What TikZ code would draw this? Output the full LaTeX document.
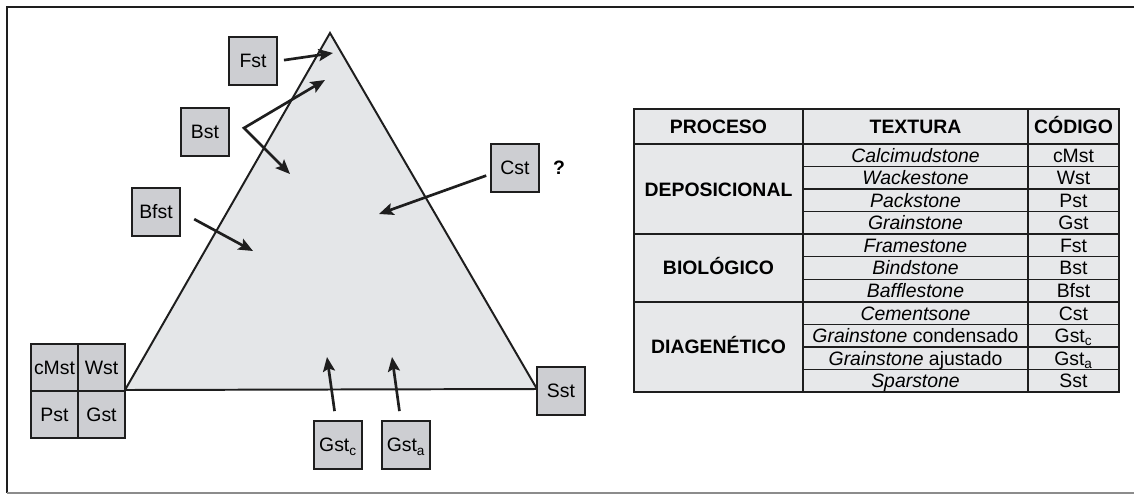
\documentclass[tikz,border=0pt]{standalone}
\usepackage{fontspec}
\setmainfont{Liberation Sans}
\usetikzlibrary{arrows.meta}
\definecolor{boxgray}{HTML}{CDCED2}
\definecolor{fieldgray}{HTML}{E4E6E8}
\definecolor{tablegray}{HTML}{E7E8EA}
\definecolor{inkdark}{HTML}{1E1E1E}
\definecolor{framegray}{HTML}{8C8C8C}
\newcommand\lblsize{\fontsize{13.8}{16}\selectfont}

\tikzset{
  hd/.tip={Stealth[length=0.36cm,width=0.3cm,inset=0.07cm]},
  texbox/.style={draw=inkdark, line width=1.4pt, fill=boxgray, minimum size=1.2cm,
    inner sep=0pt, text height=12.4pt, text depth=2.5pt},
  gridcell/.style={texbox, minimum size=1.175cm},
  pointer/.style={draw=inkdark, line width=1.9pt, -hd},
  cell/.style={inner sep=0pt, text height=12.4pt, text depth=2.5pt},
  headcell/.style={cell, font=\lblsize\bfseries}
}

\begin{document}
\begin{tikzpicture}[x=0.025cm, y=-0.025cm, every node/.style={font=\lblsize}]
  \useasboundingbox (0,0) rectangle (1135,494);

  % frame
  \draw[inkdark, line width=1.4pt] (1134,7) -- (7,7) -- (7,493);
  \draw[framegray, line width=0.8pt] (7,493) -- (1134,493);

  % ternary field
  \coordinate (left) at (125,390);
  \coordinate (apex) at (330,33);
  \coordinate (right) at (537,389);
  \draw[fill=fieldgray, draw=inkdark, line width=1.4pt] (left) -- (apex) -- (right) -- cycle;

  % texture boxes
  \node[texbox] (fst) at (253,61) {Fst};
  \node[texbox] (bst) at (205,132) {Bst};
  \node[texbox] (bfst) at (156,212) {Bfst};
  \node[texbox] (cst) at (515,168) {Cst};
  \node[font=\lblsize\bfseries] (qmark) at (559,168) {?};
  \node[texbox] (gstc) at (338,445) {Gst\textsubscript{c}};
  \node[texbox] (gsta) at (406,445) {Gst\textsubscript{a}};
  \node[texbox] (sst) at (561,391) {Sst};

  \node[gridcell] (cmst) at (54.5,367.5) {cMst};
  \node[gridcell] (wst) at (101.5,367.5) {Wst};
  \node[gridcell] (pst) at (54.5,414.5) {Pst};
  \node[gridcell] (gst) at (101.5,414.5) {Gst};

  % arrow ends
  \coordinate (fsttip) at (333,53);
  \coordinate (bstfork) at ([xshift=0.35cm, yshift=0.1cm]bst.east);
  \coordinate (bsttipa) at (325,80);
  \coordinate (bsttipb) at (290,174);
  \coordinate (bfsttip) at (253,251);
  \coordinate (csttip) at (379,214);
  \coordinate (gstctip) at (327,357);
  \coordinate (gstatip) at (392,357);

  \draw[pointer, shorten <=0.15cm] (fst.east) -- (fsttip);
  \draw[pointer, hd-hd] (bsttipa) -- (bstfork) -- (bsttipb);
  \draw[pointer, shorten <=0.375cm] (bfst.east) -- (bfsttip);
  \draw[pointer, shorten <=0.1cm] (cst.194) -- (csttip);
  \draw[pointer, shorten <=0.225cm] (gstc.95) -- (gstctip);
  \draw[pointer, shorten <=0.225cm] (gsta.102) -- (gstatip);

  % table
  \fill[tablegray] (634,109) rectangle (1119,392);
  \foreach \k in {1,2,3,5,6,8,9,10}
    \draw[inkdark, line width=1pt] (803,{144+22.545*\k}) -- (1119,{144+22.545*\k});
  \foreach \y in {144,234.2,301.8}
    \draw[inkdark, line width=1.4pt] (634,\y) -- (1119,\y);
  \draw[inkdark, line width=1.4pt] (803,109) -- (803,392);
  \draw[inkdark, line width=1.4pt] (1028,109) -- (1028,392);
  \draw[inkdark, line width=1.6pt] (634,109) rectangle (1119,392);

  \node[headcell] (hproc) at (718.5,126.5) {PROCESO};
  \node[headcell] (htext) at (915.5,126.5) {TEXTURA};
  \node[headcell] (hcod) at (1073.5,126.5) {CÓDIGO};

  \node[headcell] (gdep) at (718.5,189.1) {DEPOSICIONAL};
  \node[headcell] (gbio) at (718.5,268) {BIOLÓGICO};
  \node[headcell] (gdia) at (718.5,346.9) {DIAGENÉTICO};

  \foreach \tex/\cod [count=\i] in {
      {\textit{Calcimudstone}}/cMst,
      {\textit{Wackestone}}/Wst,
      {\textit{Packstone}}/Pst,
      {\textit{Grainstone}}/Gst,
      {\textit{Framestone}}/Fst,
      {\textit{Bindstone}}/Bst,
      {\textit{Bafflestone}}/Bfst,
      {\textit{Cementsone}}/Cst,
      {\textit{Grainstone} condensado}/{Gst\textsubscript{c}},
      {\textit{Grainstone} ajustado}/{Gst\textsubscript{a}},
      {\textit{Sparstone}}/Sst}
  {
    \node[cell] (tex\i) at (915.5,{132.73+22.545*\i}) {\tex};
    \node[cell] (cod\i) at (1073.5,{132.73+22.545*\i}) {\cod};
  }
\end{tikzpicture}
\end{document}
